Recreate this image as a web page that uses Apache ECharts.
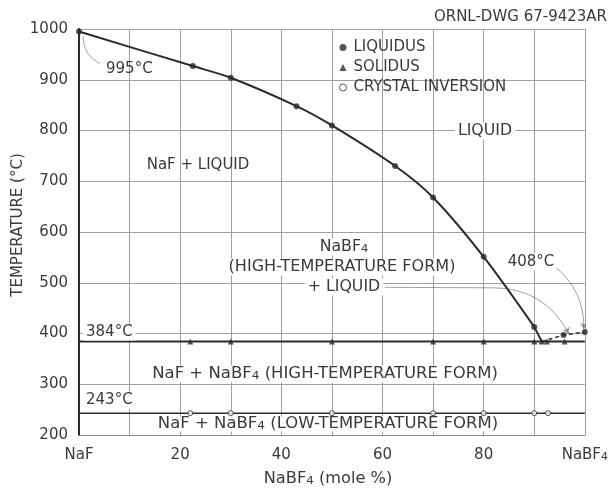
<!DOCTYPE html>
<html>
<head>
<meta charset="utf-8">
<script src="https://cdn.jsdelivr.net/npm/echarts@6/dist/echarts.min.js"></script>
<style>
html,body{margin:0;padding:0;background:#fff;}
#chart{width:611px;height:490px;}
</style>
</head>
<body>
<div id="chart"></div>
<script>
// ---- data ----
const xTickLabels = {0: 'NaF', 20: '20', 40: '40', 60: '60', 80: '80', 100: 'NaBF{s|4}'};
const liquidus = [[0, 995], [22.5, 927], [30, 904], [43, 848], [50, 810], [62.5, 730], [70, 668], [80, 551], [90, 413], [95.8, 397], [100, 403]];
const liquidusMainBranch = [[0, 995], [22.5, 927], [30, 904], [43, 848], [50, 810], [62.5, 730], [70, 668], [80, 551], [90, 413]];
const liquidusToEutectic = [[90, 413], [91.5, 384]];
const liquidusRightBranch = [[91.5, 384], [95.8, 397], [100, 403]];
const solidusX = [22, 30, 50, 70, 80, 90, 91.5, 92.5, 96];
const solidusT = 384;
const inversionX = [22, 30, 50, 70, 80, 90, 92.7];
const inversionT = 243;
const eutecticLine = [[0, 384], [100, 384]];
const inversionLine = [[0, 243], [100, 243]];

const FONT = '"DejaVu Sans", sans-serif';
const TXT = '#3a3a3a';
const INK = '#2b2b2b';
const subRich = {s: {fontSize: 11, fontFamily: FONT, color: TXT, verticalAlign: 'bottom', lineHeight: 10}};

const chart = echarts.init(document.getElementById('chart'), null, {renderer: 'canvas'});

function txt(text, x, y, align, opts, sx) {
  return {
    type: 'text', x: x, y: y, z: 50, scaleX: sx || 1.07,
    style: Object.assign({
      text: text, fill: TXT, font: '15px ' + FONT,
      align: align || 'center', verticalAlign: 'middle',
      rich: {s: {fontSize: 11, fontFamily: FONT, fill: TXT, verticalAlign: 'bottom', lineHeight: 10}}
    }, (opts || {}))
  };
}

const option = {
  backgroundColor: '#fff',
  animation: false,
  grid: {left: 79, right: 23, top: 29, bottom: 55},
  xAxis: {
    type: 'value', min: 0, max: 100, interval: 10,
    axisLine: {show: true, lineStyle: {color: '#8a8a8a', width: 1.2}},
    axisTick: {show: false},
    splitLine: {show: true, lineStyle: {color: '#9f9f9f', width: 1}},
    axisLabel: {
      margin: 13, fontSize: 15, fontFamily: FONT, color: TXT,
      formatter: function (v) { return xTickLabels[v] !== undefined ? xTickLabels[v] : ''; },
      rich: subRich
    }
  },
  yAxis: {
    type: 'value', min: 200, max: 1000, interval: 100,
    axisLine: {show: true, lineStyle: {color: INK, width: 2}},
    axisTick: {show: false},
    splitLine: {show: true, lineStyle: {color: '#9f9f9f', width: 1}},
    axisLabel: {margin: 11, fontSize: 15, fontFamily: FONT, color: TXT, formatter: function (v) { return String(v); }}
  },
  legend: {
    orient: 'vertical', left: 334, top: 35, itemGap: 5,
    itemWidth: 7, itemHeight: 7,
    textStyle: {fontSize: 15, fontFamily: FONT, color: TXT, padding: [0, 0, 0, 2]},
    data: [
      {name: 'LIQUIDUS', icon: 'circle', itemStyle: {color: INK}},
      {name: 'SOLIDUS', icon: 'triangle', itemStyle: {color: INK}},
      {name: 'CRYSTAL INVERSION', icon: 'circle', itemStyle: {color: '#fff', borderColor: INK, borderWidth: 1}}
    ]
  },
  series: [
    {
      name: 'curve', type: 'line', data: liquidusMainBranch, smooth: 0.3,
      showSymbol: false, symbol: 'none', silent: true, z: 3,
      lineStyle: {color: INK, width: 2}
    },
    {
      name: 'curveEnd', type: 'line', data: liquidusToEutectic,
      showSymbol: false, symbol: 'none', silent: true, z: 3,
      lineStyle: {color: INK, width: 2}
    },
    {
      name: 'curve2', type: 'line', data: liquidusRightBranch, showSymbol: false, symbol: 'none', silent: true, z: 3,
      lineStyle: {color: INK, width: 1.5, type: [4, 3]}
    },
    {
      name: 'eutectic', type: 'line', data: eutecticLine, showSymbol: false, symbol: 'none', silent: true, z: 3,
      lineStyle: {color: INK, width: 2}
    },
    {
      name: 'inversion', type: 'line', data: inversionLine, showSymbol: false, symbol: 'none', silent: true, z: 3,
      lineStyle: {color: INK, width: 1.6}
    },
    {
      name: 'LIQUIDUS', type: 'scatter', data: liquidus, symbol: 'circle', symbolSize: 6, z: 5,
      itemStyle: {color: INK}
    },
    {
      name: 'SOLIDUS', type: 'scatter', data: solidusX.map(function (x) { return [x, solidusT]; }),
      symbol: 'triangle', symbolSize: 6, z: 5, itemStyle: {color: INK}
    },
    {
      name: 'CRYSTAL INVERSION', type: 'scatter', data: inversionX.map(function (x) { return [x, inversionT]; }),
      symbol: 'circle', symbolSize: 5, z: 5, itemStyle: {color: '#fff', borderColor: INK, borderWidth: 1}
    },
    {
      name: 'leaders', type: 'lines', coordinateSystem: 'cartesian2d', silent: true, z: 4,
      symbolSize: 6,
      lineStyle: {color: '#444', width: 1},
      data: [
        {coords: [[4.1, 932], [0.8, 985]], lineStyle: {curveness: 0.3}, symbol: ['none', 'none']},
        {coords: [[60.5, 491], [82, 490]], lineStyle: {curveness: 0}, symbol: ['none', 'none']},
        {coords: [[82, 490], [96.8, 400]], lineStyle: {curveness: 0.3}, symbol: ['none', 'arrow']},
        {coords: [[93.9, 533], [99.8, 409]], lineStyle: {curveness: 0.25}, symbol: ['none', 'arrow']}
      ]
    }
  ],
  graphic: [
    txt('ORNL-DWG 67-9423AR', 607, 17, 'right', {font: '15px ' + FONT}, 1.0),
    txt('995°C', 106, 69, 'left', null, 1.0),
    txt('NaF + LIQUID', 198, 165, 'center', null, 1.0),
    txt('LIQUID', 485, 131, 'center', {backgroundColor: '#fff', padding: [1, 3]}, 1.05),
    txt('NaBF{s|4}', 344, 247, 'center', {backgroundColor: '#fff', padding: [1, 3]}, 1.05),
    txt('(HIGH-TEMPERATURE FORM)', 342, 267, 'center', {backgroundColor: '#fff', padding: [1, 3]}, 1.07),
    txt('+ LIQUID', 344, 287, 'center', {backgroundColor: '#fff', padding: [1, 3]}, 1.05),
    txt('408°C', 531, 262, 'center', {backgroundColor: '#fff', padding: [1, 2]}, 1.0),
    txt('384°C', 83, 332, 'left', {backgroundColor: '#fff', padding: [1, 3]}, 1.0),
    txt('NaF + NaBF{s|4} (HIGH-TEMPERATURE FORM)', 325, 374, 'center', {backgroundColor: '#fff', padding: [1, 4]}, 1.1),
    txt('243°C', 83, 400, 'left', {backgroundColor: '#fff', padding: [1, 3]}, 1.0),
    txt('NaF + NaBF{s|4} (LOW-TEMPERATURE FORM)', 328, 424, 'center', {backgroundColor: '#fff', padding: [0, 4]}, 1.1),
    txt('NaBF{s|4} (mole %)', 328, 479, 'center', null, 1.08),
    {
      type: 'text', x: 18, y: 225, rotation: Math.PI / 2, z: 50,
      style: {text: 'TEMPERATURE (°C)', fill: TXT, font: '15px ' + FONT, align: 'center', verticalAlign: 'middle'}
    }
  ]
};
chart.setOption(option);
</script>
</body>
</html>
